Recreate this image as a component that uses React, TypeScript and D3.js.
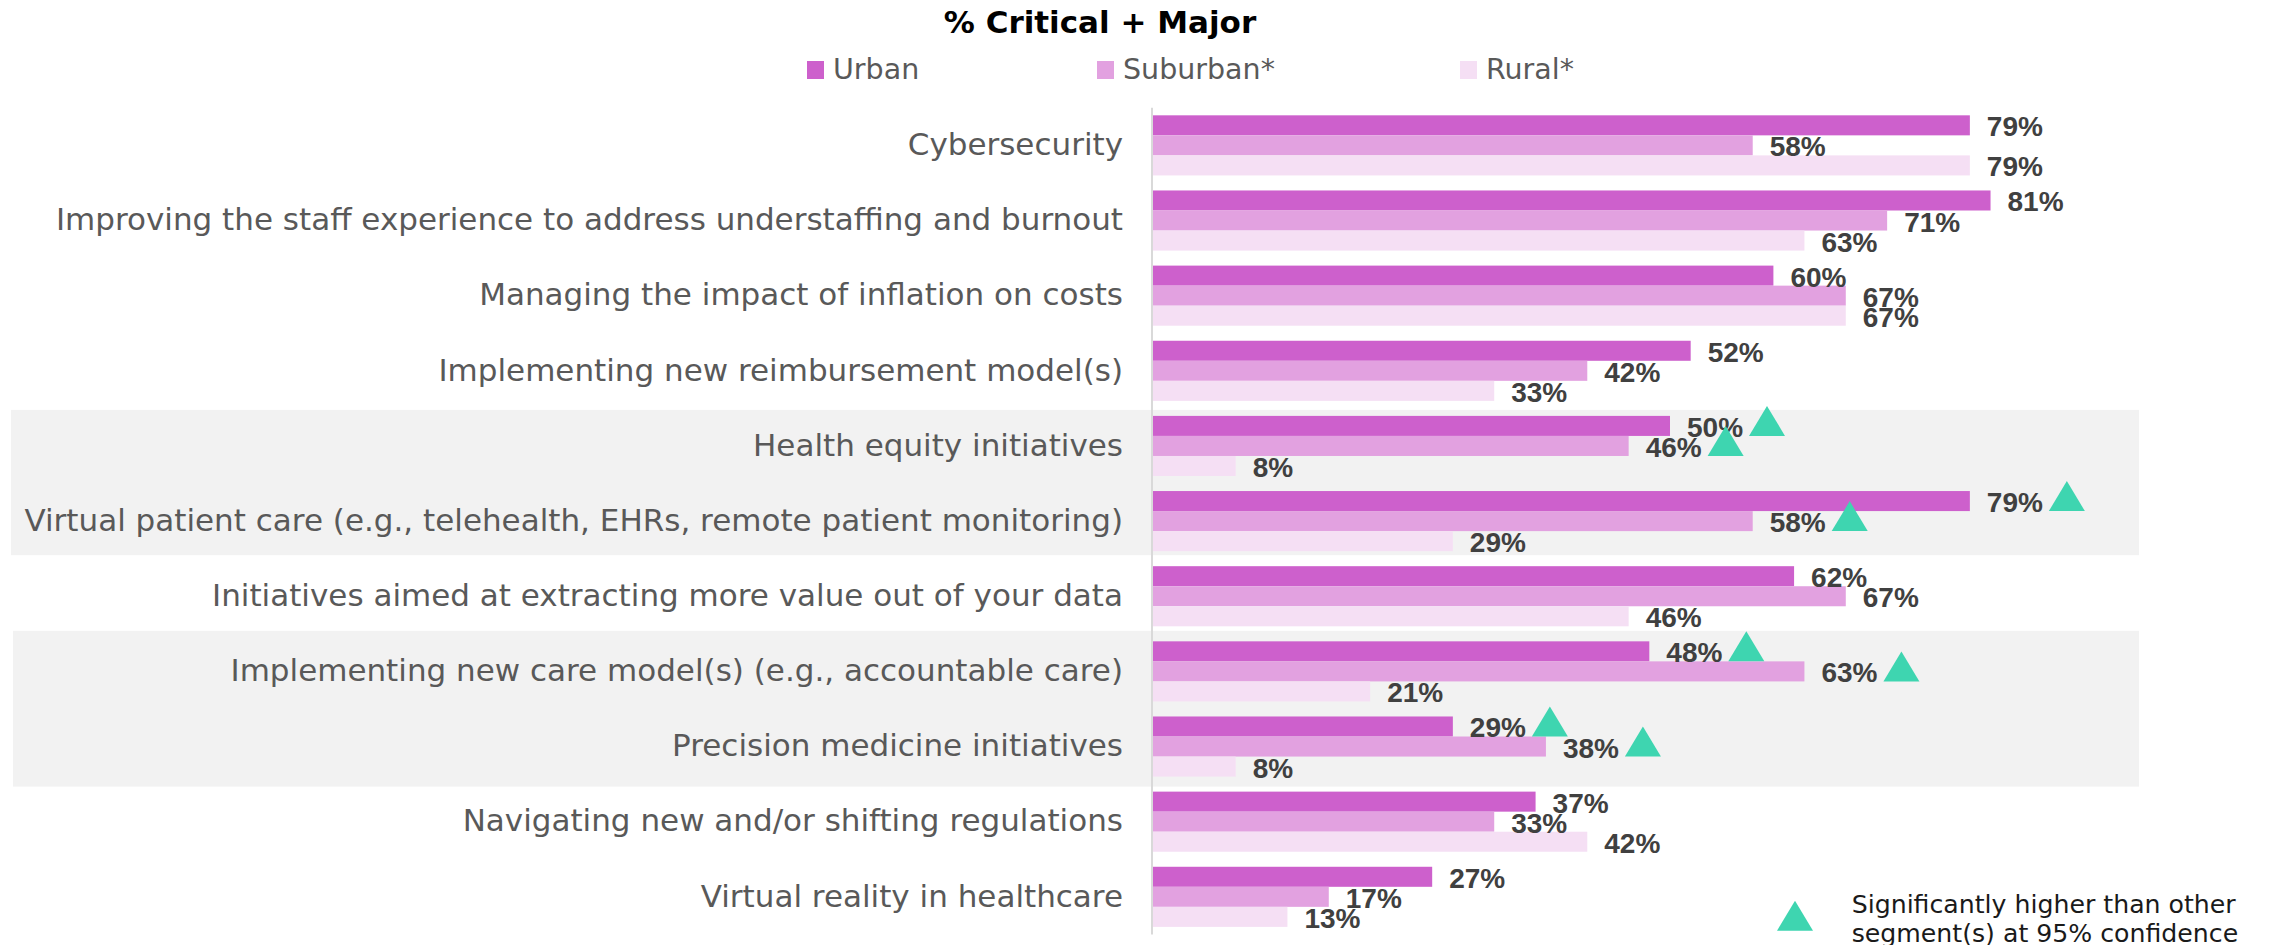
import React from "react";
import * as d3 from "d3";

const categories = [
  "Cybersecurity",
  "Improving the staff experience to address understaffing and burnout",
  "Managing the impact of inflation on costs",
  "Implementing new reimbursement model(s)",
  "Health equity initiatives",
  "Virtual patient care (e.g., telehealth, EHRs, remote patient monitoring)",
  "Initiatives aimed at extracting more value out of your data",
  "Implementing new care model(s) (e.g., accountable care)",
  "Precision medicine initiatives",
  "Navigating new and/or shifting regulations",
  "Virtual reality in healthcare",
];

const seriesNames = ["Urban", "Suburban*", "Rural*"];
const urban = [79, 81, 60, 52, 50, 79, 62, 48, 29, 37, 27];
const suburban = [58, 71, 67, 42, 46, 58, 67, 63, 38, 33, 17];
const rural = [79, 63, 67, 33, 8, 29, 46, 21, 8, 42, 13];

// significance markers: [category index, series index]
const significant: [number, number][] = [
  [4, 0], [4, 1],
  [5, 0], [5, 1],
  [7, 0], [7, 1],
  [8, 0], [8, 1],
];

// shaded groups: [first category index, last category index]
const shadedGroups: [number, number][] = [
  [4, 5],
  [7, 8],
];

const title = "% Critical + Major";
const footnoteLines = ["Significantly higher than other", "segment(s) at 95% confidence"];

const COLORS = ["#cd60cc", "#e2a1e0", "#f5dff4"];
const TRI = "#3ed5b0";
const LABEL_FONT = "'DejaVu Sans', sans-serif";
const VALUE_FONT = "'Liberation Sans', Arial, sans-serif";

export default function App() {
  const W = 2270;
  const H = 945;
  const values = [urban, suburban, rural];

  const x = d3.scaleLinear().domain([0, 100]).range([1153, 2187]);
  const y = d3
    .scaleBand<string>()
    .domain(categories)
    .range([107.8, 934.4])
    .paddingInner(0.2)
    .paddingOuter(0.1);
  const ySub = d3
    .scaleBand<string>()
    .domain(seriesNames)
    .range([0, y.bandwidth()]);
  const barH = ySub.bandwidth();

  const legendX = [807, 1097, 1460];
  const shadePads = [[6, 4], [10.5, 10]];

  const triPath = (cx: number, baseY: number) => {
    const p = d3.path();
    p.moveTo(cx - 18, baseY);
    p.lineTo(cx, baseY - 30);
    p.lineTo(cx + 18, baseY);
    p.closePath();
    return p.toString();
  };

  return (
    <div>
      <style>{`body{margin:0;}`}</style>
      <svg width={W} height={H} style={{ display: "block", background: "#fff" }}>
        {/* shaded bands */}
        {shadedGroups.map(([a, b], i) => {
          const top = (y(categories[a]) as number) - shadePads[i][0];
          const bot = (y(categories[b]) as number) + y.bandwidth() + shadePads[i][1];
          return (
            <rect key={"s" + i} x={11 + i * 2} y={top} width={2128 - i * 2} height={bot - top} fill="#f2f2f2" />
          );
        })}

        {/* title */}
        <text x={1100} y={33.3} textAnchor="middle" fontFamily={LABEL_FONT} fontWeight="bold" fontSize={31} fill="#000">
          {title}
        </text>

        {/* legend */}
        {seriesNames.map((s, i) => (
          <g key={"l" + i}>
            <rect x={legendX[i]} y={61} width={17} height={18} fill={COLORS[i]} />
            <text x={legendX[i] + 26} y={79.3} fontFamily={LABEL_FONT} fontSize={28.5} fill="#595959">
              {s}
            </text>
          </g>
        ))}

        {/* category labels */}
        {categories.map((c) => (
          <text
            key={"c" + c}
            x={1123}
            y={(y(c) as number) + y.bandwidth() / 2 + 9.8}
            textAnchor="end"
            fontFamily={LABEL_FONT}
            fontSize={31}
            fill="#595959"
          >
            {c}
          </text>
        ))}

        {/* bars */}
        {categories.map((c, ci) =>
          seriesNames.map((s, si) => {
            const v = values[si][ci];
            const by = (y(c) as number) + (ySub(s) as number);
            return (
              <rect
                key={"b" + ci + "-" + si}
                x={x(0)}
                y={by}
                width={x(v) - x(0)}
                height={barH}
                fill={COLORS[si]}
              />
            );
          })
        )}

        {/* axis line */}
        <line x1={1152} x2={1152} y1={107.8} y2={934.4} stroke="#d9d9d9" strokeWidth={2} />

        {/* value labels */}
        {categories.map((c, ci) =>
          seriesNames.map((s, si) => {
            const v = values[si][ci];
            const by = (y(c) as number) + (ySub(s) as number);
            return (
              <text
                key={"v" + ci + "-" + si}
                x={x(v) + 17}
                y={by + barH / 2 + 11}
                fontFamily={VALUE_FONT}
                fontWeight="bold"
                fontSize={28}
                fill="#404040"
              >
                {v + "%"}
              </text>
            );
          })
        )}

        {/* significance triangles */}
        {significant.map(([ci, si], i) => {
          const v = values[si][ci];
          const by = (y(categories[ci]) as number) + (ySub(seriesNames[si]) as number) + barH;
          return <path key={"t" + i} d={triPath(x(v) + 97, by)} fill={TRI} />;
        })}

        {/* footnote */}
        <path d={triPath(1795, 930.7)} fill={TRI} />
        {footnoteLines.map((t, i) => (
          <text key={"f" + i} x={1851.7} y={913.3 + i * 28.4} fontFamily={LABEL_FONT} fontSize={25.2} fill="#1a1a1a">
            {t}
          </text>
        ))}
      </svg>
    </div>
  );
}
